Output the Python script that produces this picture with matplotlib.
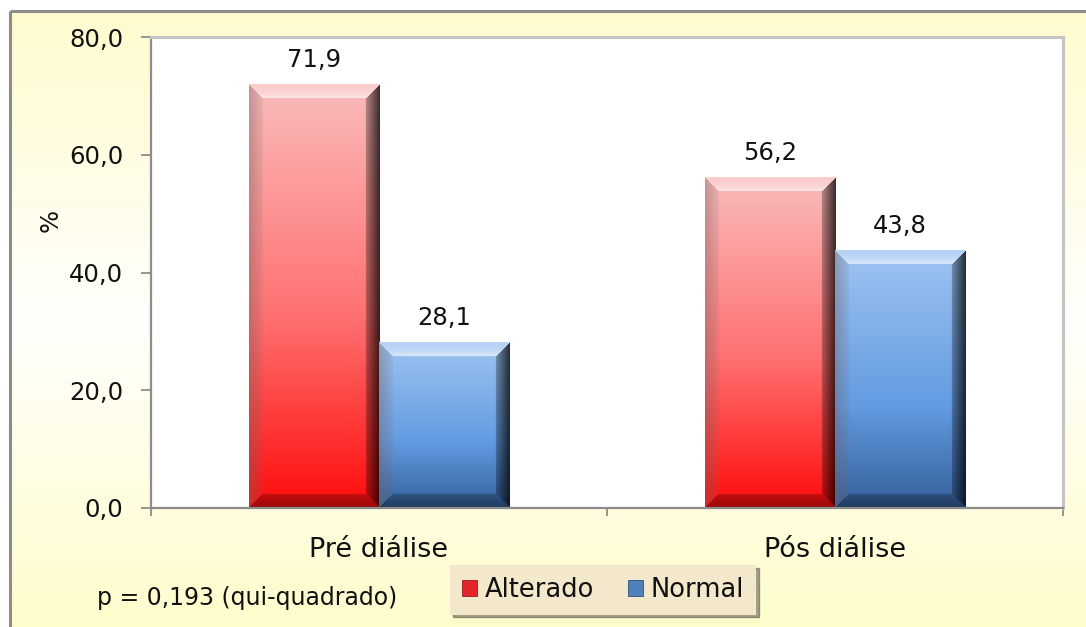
import numpy as np
import matplotlib
matplotlib.use("Agg")
import matplotlib.pyplot as plt
from matplotlib.patches import Patch

# Data
categories = ["Pré diálise", "Pós diálise"]
alterado = [71.9, 56.2]
normal = [28.1, 43.8]
series_names = ["Alterado", "Normal"]
y_ticks = [0, 20, 40, 60, 80]
note_text = "p = 0,193 (qui-quadrado)"

W, H = 1086, 627
DPI = 100
plt.rcParams["font.family"] = ["DejaVu Sans"]
TEXT = "#111111"


def fmt(v):
    return f"{v:.1f}".replace(".", ",")


def gradient(stops, n):
    pos = np.array([s[0] for s in stops])
    cols = np.array([s[1] for s in stops], dtype=float) / 255.0
    t = np.linspace(0, 1, n)
    return np.stack([np.interp(t, pos, cols[:, k]) for k in range(3)], axis=-1)


def bevel_image(w, h, stops, b=14):
    w = max(int(round(w)), 2)
    h = max(int(round(h)), 2)
    base = np.repeat(gradient(stops, h)[:, None, :], w, axis=1)
    i = np.arange(h)[:, None] * np.ones((1, w))
    j = np.ones((h, 1)) * np.arange(w)[None, :]
    d = np.stack([i, h - 1 - i, j, w - 1 - j])  # top, bottom, left, right
    which = np.argmin(d, axis=0)
    dmin = np.min(d, axis=0)
    t = np.clip(1 - dmin / b, 0, 1)
    inb = dmin < b
    img = base.copy()
    white = np.ones(3)
    black = np.zeros(3)
    # top edge: highlight, brightest towards the inner fold
    m = inb & (which == 0)
    a = (0.25 + 0.45 * (1 - t) ** 2)[..., None]
    img[m] = (base * (1 - a) + white * a)[m]
    # bottom edge: darker
    m = inb & (which == 1)
    a = (0.22 + 0.18 * t)[..., None]
    img[m] = (base * (1 - a) + black * a)[m]
    # left edge: slightly muted
    m = inb & (which == 2)
    grey = np.array([0.45, 0.38, 0.38])
    a = (0.08 + 0.32 * t)[..., None]
    img[m] = (base * (1 - a) + grey * a)[m]
    # right edge: deep shadow
    m = inb & (which == 3)
    a = (0.25 + 0.5 * t)[..., None]
    img[m] = (base * (1 - a) + black * a)[m]
    return np.clip(img, 0, 1)


red_stops = [(0.0, (250, 188, 188)), (0.55, (255, 112, 112)), (1.0, (255, 12, 12))]
blue_stops = [(0.0, (158, 196, 242)), (0.6, (100, 155, 225)), (1.0, (52, 96, 155))]

fig = plt.figure(figsize=(W / DPI, H / DPI), dpi=DPI)
fig.patch.set_facecolor("white")

# Background panel with soft cream gradient and frame
ax_bg = fig.add_axes([0, 0, 1, 1], zorder=-10)
ax_bg.set_xlim(0, W)
ax_bg.set_ylim(H, 0)
ax_bg.axis("off")
for s in ax_bg.spines.values():
    s.set_visible(False)
bg = gradient([(0.0, (255, 251, 206)), (0.5, (255, 255, 252)), (1.0, (255, 252, 204))], 300)
ax_bg.imshow(bg[:, None, :], extent=(10, W + 2, H + 2, 11), aspect="auto",
             interpolation="bilinear")
ax_bg.set_xlim(0, W)
ax_bg.set_ylim(H, 0)
ax_bg.plot([9.5, 9.5], [H + 2, 10.5], color="#8c8c8c", lw=2.2, solid_capstyle="butt")
ax_bg.plot([9.5, W + 2], [10.5, 10.5], color="#8c8c8c", lw=2.2, solid_capstyle="butt")

# Main plot area
ax = fig.add_axes([151 / W, 1 - 508 / H, 912 / W, 471 / H])
ax.set_facecolor("white")
x = np.arange(len(categories))
bw = 0.286
ax.set_xlim(-0.5, len(categories) - 0.5)
ax.set_ylim(0, 80)

bars_a = ax.bar(x - bw / 2, alterado, bw, color="none", edgecolor="none")
bars_n = ax.bar(x + bw / 2, normal, bw, color="none", edgecolor="none")

fig.canvas.draw()
for bars, stops in ((bars_a, red_stops), (bars_n, blue_stops)):
    for r in bars:
        x0, y0 = r.get_x(), r.get_y()
        x1, y1 = x0 + r.get_width(), y0 + r.get_height()
        (px0, py0), (px1, py1) = ax.transData.transform([(x0, y0), (x1, y1)])
        img = bevel_image(abs(px1 - px0), abs(py1 - py0), stops)
        ax.imshow(img, extent=(x0, x1, y0, y1), aspect="auto", zorder=2,
                  interpolation="bilinear")

ax.set_xlim(-0.5, len(categories) - 0.5)
ax.set_ylim(0, 80)

for bars, vals in ((bars_a, alterado), (bars_n, normal)):
    ax.bar_label(bars, labels=[fmt(v) for v in vals], padding=9,
                 fontsize=17.5, color=TEXT, zorder=3)

# Axes styling
for s in ("left", "bottom"):
    ax.spines[s].set_color("#8c8c8c")
    ax.spines[s].set_linewidth(1.6)
for s in ("top", "right"):
    ax.spines[s].set_color("#c4c4c4")
    ax.spines[s].set_linewidth(2.2)

ax.set_yticks(y_ticks)
ax.set_yticklabels([fmt(v) for v in y_ticks], fontsize=17.5, color=TEXT)
ax.tick_params(axis="y", length=7, width=1.3, color="#8c8c8c", pad=13)
ax.set_xticks(x)
ax.set_xticklabels(categories, fontsize=19.5, color=TEXT)
ax.tick_params(axis="x", which="major", length=0, pad=21)
ax.set_xticks(np.arange(-0.5, len(categories)), minor=True)
ax.tick_params(axis="x", which="minor", length=6, width=1.3, color="#8c8c8c")

ax.set_ylabel("%", fontsize=17.5, color=TEXT)
ax.yaxis.set_label_coords(-0.097, 0.611)

# Legend
handles = [Patch(facecolor="#e3262b", edgecolor="#9b1a1a", lw=0.6),
           Patch(facecolor="#4f81bd", edgecolor="#2d4f78", lw=0.6)]
leg = fig.legend(handles, series_names, loc="center",
                 bbox_to_anchor=(603 / W, 1 - 590 / H), ncol=2,
                 frameon=True, fancybox=False, shadow=True,
                 facecolor="#f3e7cc", edgecolor="none", framealpha=1,
                 fontsize=18.5, handlelength=0.6, handleheight=0.6,
                 handletextpad=0.3, columnspacing=1.3, borderpad=0.45)
for t in leg.get_texts():
    t.set_color(TEXT)

fig.text(97 / W, 1 - 598 / H, note_text, fontsize=17, color=TEXT,
         ha="left", va="center")

fig.savefig("out.png", dpi=DPI)
